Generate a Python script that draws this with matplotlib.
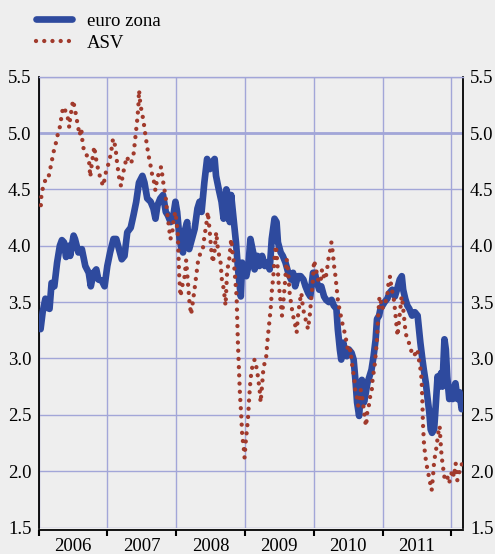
import matplotlib
matplotlib.use("Agg")
import matplotlib.pyplot as plt
from matplotlib.ticker import FixedLocator, FixedFormatter, NullFormatter

# Short-term rate, euro area (decimal year, percent)
euro_t = [
    2006.03, 2006.06, 2006.10, 2006.13, 2006.16, 2006.19, 2006.23, 2006.27, 2006.31, 2006.34,
    2006.37, 2006.40, 2006.44, 2006.46, 2006.51, 2006.53, 2006.58, 2006.63, 2006.68, 2006.73,
    2006.76, 2006.80, 2006.84, 2006.87, 2006.92, 2006.96, 2007.00, 2007.04, 2007.09, 2007.13,
    2007.17, 2007.21, 2007.25, 2007.29, 2007.34, 2007.38, 2007.42, 2007.46, 2007.51, 2007.54,
    2007.58, 2007.63, 2007.67, 2007.70, 2007.73, 2007.77, 2007.81, 2007.85, 2007.88, 2007.92,
    2007.96, 2007.99, 2008.015, 2008.05, 2008.08, 2008.10, 2008.12, 2008.16, 2008.19, 2008.23,
    2008.27, 2008.31, 2008.34, 2008.37, 2008.41, 2008.45, 2008.49, 2008.52, 2008.56, 2008.58,
    2008.62, 2008.66, 2008.69, 2008.73, 2008.75, 2008.78, 2008.80, 2008.83, 2008.85, 2008.87,
    2008.90, 2008.92, 2008.94, 2008.96, 2008.99, 2009.02, 2009.05, 2009.08, 2009.12, 2009.14,
    2009.18, 2009.21, 2009.25, 2009.29, 2009.33, 2009.36, 2009.39, 2009.43, 2009.46, 2009.48,
    2009.52, 2009.55, 2009.59, 2009.63, 2009.67, 2009.70, 2009.73, 2009.77, 2009.81, 2009.85,
    2009.88, 2009.92, 2009.95, 2009.99, 2010.015, 2010.05, 2010.08, 2010.11, 2010.15, 2010.18,
    2010.22, 2010.26, 2010.29, 2010.33, 2010.35, 2010.38, 2010.40, 2010.43, 2010.45, 2010.48,
    2010.51, 2010.55, 2010.58, 2010.61, 2010.63, 2010.66, 2010.68, 2010.70, 2010.73, 2010.75,
    2010.78, 2010.81, 2010.84, 2010.87, 2010.90, 2010.92, 2010.95, 2010.97, 2011.00, 2011.03,
    2011.07, 2011.10, 2011.14, 2011.18, 2011.21, 2011.25, 2011.28, 2011.30, 2011.33, 2011.36,
    2011.39, 2011.43, 2011.47, 2011.51, 2011.53, 2011.55, 2011.58, 2011.60, 2011.63, 2011.65,
    2011.68, 2011.70, 2011.72, 2011.75, 2011.77, 2011.80, 2011.82, 2011.85, 2011.87, 2011.90,
    2011.92, 2011.94, 2011.97, 2011.99, 2012.02, 2012.04, 2012.06, 2012.09, 2012.12, 2012.15,
    2012.17,
]
euro_v = [
    3.26, 3.41, 3.53, 3.45, 3.44, 3.67, 3.64, 3.85, 4.00, 4.05,
    4.03, 3.90, 4.00, 3.91, 4.09, 4.06, 3.94, 3.97, 3.82, 3.76,
    3.64, 3.76, 3.79, 3.70, 3.69, 3.64, 3.82, 3.94, 4.06, 4.06,
    3.97, 3.88, 3.91, 4.12, 4.16, 4.27, 4.39, 4.56, 4.62, 4.56,
    4.42, 4.39, 4.33, 4.24, 4.36, 4.42, 4.45, 4.30, 4.27, 4.21,
    4.27, 4.39, 4.30, 4.06, 3.97, 3.94, 4.12, 4.21, 3.97, 4.06,
    4.15, 4.33, 4.39, 4.30, 4.56, 4.77, 4.68, 4.74, 4.77, 4.62,
    4.50, 4.39, 4.24, 4.50, 4.45, 4.21, 4.45, 4.27, 4.15, 4.03,
    3.79, 3.67, 3.55, 3.85, 3.76, 3.73, 3.82, 4.06, 3.94, 3.79,
    3.91, 3.82, 3.91, 3.82, 3.85, 3.79, 4.06, 4.24, 4.21, 4.03,
    3.94, 3.91, 3.85, 3.76, 3.70, 3.76, 3.64, 3.73, 3.73, 3.70,
    3.64, 3.58, 3.55, 3.76, 3.76, 3.67, 3.61, 3.64, 3.55, 3.52,
    3.50, 3.52, 3.47, 3.44, 3.26, 3.08, 2.99, 3.14, 3.08, 3.02,
    3.08, 3.05, 2.99, 2.78, 2.61, 2.49, 2.67, 2.81, 2.61, 2.67,
    2.78, 2.84, 2.90, 3.02, 3.17, 3.35, 3.38, 3.44, 3.47, 3.50,
    3.53, 3.58, 3.61, 3.55, 3.61, 3.70, 3.73, 3.61, 3.53, 3.47,
    3.44, 3.38, 3.41, 3.38, 3.26, 3.14, 2.99, 2.90, 2.78, 2.67,
    2.52, 2.37, 2.34, 2.37, 2.55, 2.84, 2.75, 2.87, 2.75, 3.17,
    3.08, 2.84, 2.64, 2.72, 2.64, 2.75, 2.78, 2.64, 2.70, 2.55,
    2.58,
]

# Short-term rate, USA (decimal year, percent)
asv_t = [
    2006.034, 2006.044, 2006.073, 2006.112, 2006.146, 2006.180, 2006.218, 2006.252, 2006.277, 2006.306,
    2006.325, 2006.354, 2006.374, 2006.403, 2006.427, 2006.447, 2006.461, 2006.485, 2006.500, 2006.524,
    2006.544, 2006.568, 2006.597, 2006.621, 2006.641, 2006.665, 2006.704, 2006.738, 2006.752, 2006.777,
    2006.811, 2006.830, 2006.850, 2006.874, 2006.908, 2006.937, 2006.961, 2006.985, 2007.019, 2007.053,
    2007.083, 2007.117, 2007.141, 2007.170, 2007.199, 2007.223, 2007.252, 2007.286, 2007.320, 2007.350,
    2007.383, 2007.408, 2007.432, 2007.451, 2007.461, 2007.481, 2007.500, 2007.519, 2007.539, 2007.558,
    2007.578, 2007.597, 2007.617, 2007.636, 2007.655, 2007.675, 2007.699, 2007.723, 2007.752, 2007.782,
    2007.801, 2007.820, 2007.845, 2007.869, 2007.893, 2007.917, 2007.942, 2007.966, 2007.990, 2008.000,
    2008.024, 2008.044, 2008.063, 2008.092, 2008.121, 2008.146, 2008.170, 2008.194, 2008.218, 2008.243,
    2008.267, 2008.291, 2008.316, 2008.354, 2008.388, 2008.413, 2008.437, 2008.461, 2008.485, 2008.510,
    2008.534, 2008.558, 2008.583, 2008.607, 2008.646, 2008.665, 2008.694, 2008.718, 2008.743, 2008.767,
    2008.791, 2008.801, 2008.820, 2008.840, 2008.859, 2008.879, 2008.888, 2008.898, 2008.913, 2008.927,
    2008.947, 2008.961, 2008.981, 2008.995, 2009.010, 2009.024, 2009.044, 2009.058, 2009.073, 2009.092,
    2009.117, 2009.141, 2009.165, 2009.189, 2009.214, 2009.228, 2009.248, 2009.267, 2009.286, 2009.306,
    2009.325, 2009.345, 2009.359, 2009.374, 2009.393, 2009.413, 2009.432, 2009.451, 2009.471, 2009.490,
    2009.519, 2009.539, 2009.558, 2009.578, 2009.607, 2009.626, 2009.650, 2009.675, 2009.699, 2009.723,
    2009.752, 2009.772, 2009.796, 2009.820, 2009.845, 2009.869, 2009.893, 2009.917, 2009.942, 2009.966,
    2009.985, 2010.005, 2010.034, 2010.063, 2010.097, 2010.121, 2010.146, 2010.170, 2010.194, 2010.218,
    2010.243, 2010.257, 2010.277, 2010.296, 2010.316, 2010.335, 2010.354, 2010.374, 2010.393, 2010.413,
    2010.437, 2010.461, 2010.485, 2010.510, 2010.534, 2010.549, 2010.568, 2010.587, 2010.607, 2010.626,
    2010.646, 2010.665, 2010.684, 2010.704, 2010.728, 2010.752, 2010.762, 2010.782, 2010.801, 2010.820,
    2010.840, 2010.859, 2010.879, 2010.898, 2010.917, 2010.937, 2010.956, 2010.976, 2010.995, 2011.015,
    2011.034, 2011.053, 2011.073, 2011.092, 2011.112, 2011.131, 2011.150, 2011.170, 2011.189, 2011.209,
    2011.218, 2011.238, 2011.257, 2011.277, 2011.296, 2011.316, 2011.335, 2011.359, 2011.383, 2011.408,
    2011.432, 2011.456, 2011.481, 2011.505, 2011.529, 2011.553, 2011.568, 2011.578, 2011.587, 2011.602,
    2011.617, 2011.636, 2011.655, 2011.675, 2011.694, 2011.714, 2011.733, 2011.752, 2011.772, 2011.791,
    2011.811, 2011.830, 2011.845, 2011.859, 2011.879, 2011.898, 2011.917, 2011.942, 2011.966, 2011.990,
    2012.015, 2012.039, 2012.063, 2012.087, 2012.112, 2012.136, 2012.160,
]
asv_v = [
    4.36, 4.47, 4.53, 4.61, 4.61, 4.71, 4.83, 4.91, 4.98, 5.04,
    5.11, 5.22, 5.23, 5.17, 5.13, 5.05, 5.14, 5.22, 5.29, 5.23,
    5.16, 5.08, 4.98, 5.04, 4.91, 4.83, 4.80, 4.73, 4.61, 4.74,
    4.88, 4.79, 4.73, 4.65, 4.59, 4.53, 4.59, 4.67, 4.73, 4.82,
    4.95, 4.88, 4.74, 4.61, 4.53, 4.62, 4.71, 4.79, 4.73, 4.74,
    4.82, 4.96, 5.10, 5.23, 5.38, 5.25, 5.19, 5.13, 5.05, 4.96,
    4.89, 4.80, 4.76, 4.68, 4.62, 4.58, 4.49, 4.59, 4.65, 4.70,
    4.62, 4.53, 4.45, 4.30, 4.18, 4.06, 4.10, 4.25, 4.30, 4.25,
    4.10, 3.75, 3.55, 3.65, 3.72, 3.87, 3.68, 3.50, 3.39, 3.50,
    3.61, 3.73, 3.85, 3.94, 3.97, 4.09, 4.18, 4.30, 4.15, 3.97,
    3.85, 3.95, 4.12, 3.97, 3.85, 3.70, 3.61, 3.47, 3.79, 3.85,
    4.00, 4.06, 3.94, 3.85, 3.70, 3.55, 3.35, 3.14, 2.90, 2.69,
    2.49, 2.31, 2.22, 2.12, 2.25, 2.34, 2.46, 2.61, 2.75, 2.87,
    2.96, 2.99, 2.93, 2.84, 2.72, 2.61, 2.75, 2.90, 2.96, 2.99,
    3.14, 3.26, 3.35, 3.44, 3.61, 3.73, 3.91, 4.00, 3.85, 3.67,
    3.50, 3.38, 3.50, 3.64, 3.88, 3.79, 3.58, 3.47, 3.38, 3.32,
    3.23, 3.38, 3.50, 3.58, 3.44, 3.38, 3.32, 3.26, 3.38, 3.55,
    3.67, 3.87, 3.79, 3.70, 3.67, 3.79, 3.73, 3.70, 3.79, 3.90,
    3.97, 4.03, 3.94, 3.82, 3.73, 3.61, 3.50, 3.44, 3.38, 3.32,
    3.26, 3.20, 3.11, 3.05, 3.08, 2.99, 2.90, 2.84, 2.69, 2.66,
    2.58, 2.64, 2.72, 2.66, 2.55, 2.43, 2.40, 2.55, 2.58, 2.66,
    2.69, 2.84, 2.90, 3.02, 3.14, 3.38, 3.55, 3.50, 3.44, 3.47,
    3.47, 3.53, 3.58, 3.70, 3.73, 3.61, 3.58, 3.50, 3.38, 3.26,
    3.20, 3.32, 3.44, 3.55, 3.47, 3.35, 3.23, 3.17, 3.14, 3.08,
    3.05, 3.02, 3.05, 3.08, 2.99, 2.90, 2.81, 2.64, 2.43, 2.25,
    2.16, 2.07, 2.01, 1.95, 1.89, 1.83, 1.95, 2.10, 2.16, 2.25,
    2.34, 2.40, 2.25, 2.13, 2.04, 1.95, 1.98, 1.95, 1.89, 1.95,
    2.01, 1.95, 2.07, 1.92, 1.98, 2.04, 2.07,
]

years = [2006, 2007, 2008, 2009, 2010, 2011]
year_edges = [2006, 2007, 2008, 2009, 2010, 2011, 2012]
y_ticks = [1.5, 2.0, 2.5, 3.0, 3.5, 4.0, 4.5, 5.0, 5.5]

BG = "#eeeeee"
GRID = "#a2a6d8"
BLUE = "#2e4a9e"
RED = "#a13a2c"

plt.rcParams["font.family"] = ["Liberation Serif", "DejaVu Serif"]
plt.rcParams["font.size"] = 13.5

fig = plt.figure(figsize=(4.95, 5.54), dpi=100, facecolor=BG)
ax = fig.add_axes([0.0778, 0.0478, 0.8576, 0.8138], facecolor=BG)

ax.plot(euro_t, euro_v, color=BLUE, lw=4.8, solid_joinstyle="round",
        solid_capstyle="round", zorder=3, label="euro zona")
ax.plot(asv_t, asv_v, color=RED, lw=3.1, linestyle=(0, (0.01, 1.9)),
        dash_capstyle="round", zorder=4, label="ASV")

ax.set_xlim(2006.0, 2012.17)
ax.set_ylim(1.5, 5.5)

# grid: half-point lines, year boundaries, heavier 5% line
ax.set_yticks(y_ticks)
ax.yaxis.set_major_formatter(FixedFormatter([f"{v:.1f}" for v in y_ticks]))
ax.xaxis.set_major_locator(FixedLocator(year_edges))
ax.xaxis.set_major_formatter(NullFormatter())
ax.xaxis.set_minor_locator(FixedLocator([y + 0.5 for y in years]))
ax.xaxis.set_minor_formatter(FixedFormatter([str(y) for y in years]))
ax.grid(True, which="major", color=GRID, lw=1.0, zorder=0)
ax.set_axisbelow(True)
ax.axhline(5.0, color=GRID, lw=2.0, zorder=1)

ax.tick_params(axis="y", which="both", length=0, left=True, right=True,
               labelleft=True, labelright=True, pad=5)
ax.tick_params(axis="x", which="major", direction="out", length=4, width=1.5,
               color="black")
ax.tick_params(axis="x", which="minor", length=0, pad=6)

for side in ("left", "right", "bottom"):
    ax.spines[side].set_color("black")
    ax.spines[side].set_linewidth(1.3)
ax.spines["bottom"].set_position(("outward", 1.5))
ax.spines["top"].set_color(GRID)
ax.spines["top"].set_linewidth(1.0)

fig.legend(loc="upper left", bbox_to_anchor=(0.073, 0.977), frameon=False,
           borderpad=0, borderaxespad=0, handlelength=1.9, handletextpad=0.8,
           labelspacing=0.25, fontsize=13.5)

fig.savefig("out.png", dpi=100, facecolor=BG)
